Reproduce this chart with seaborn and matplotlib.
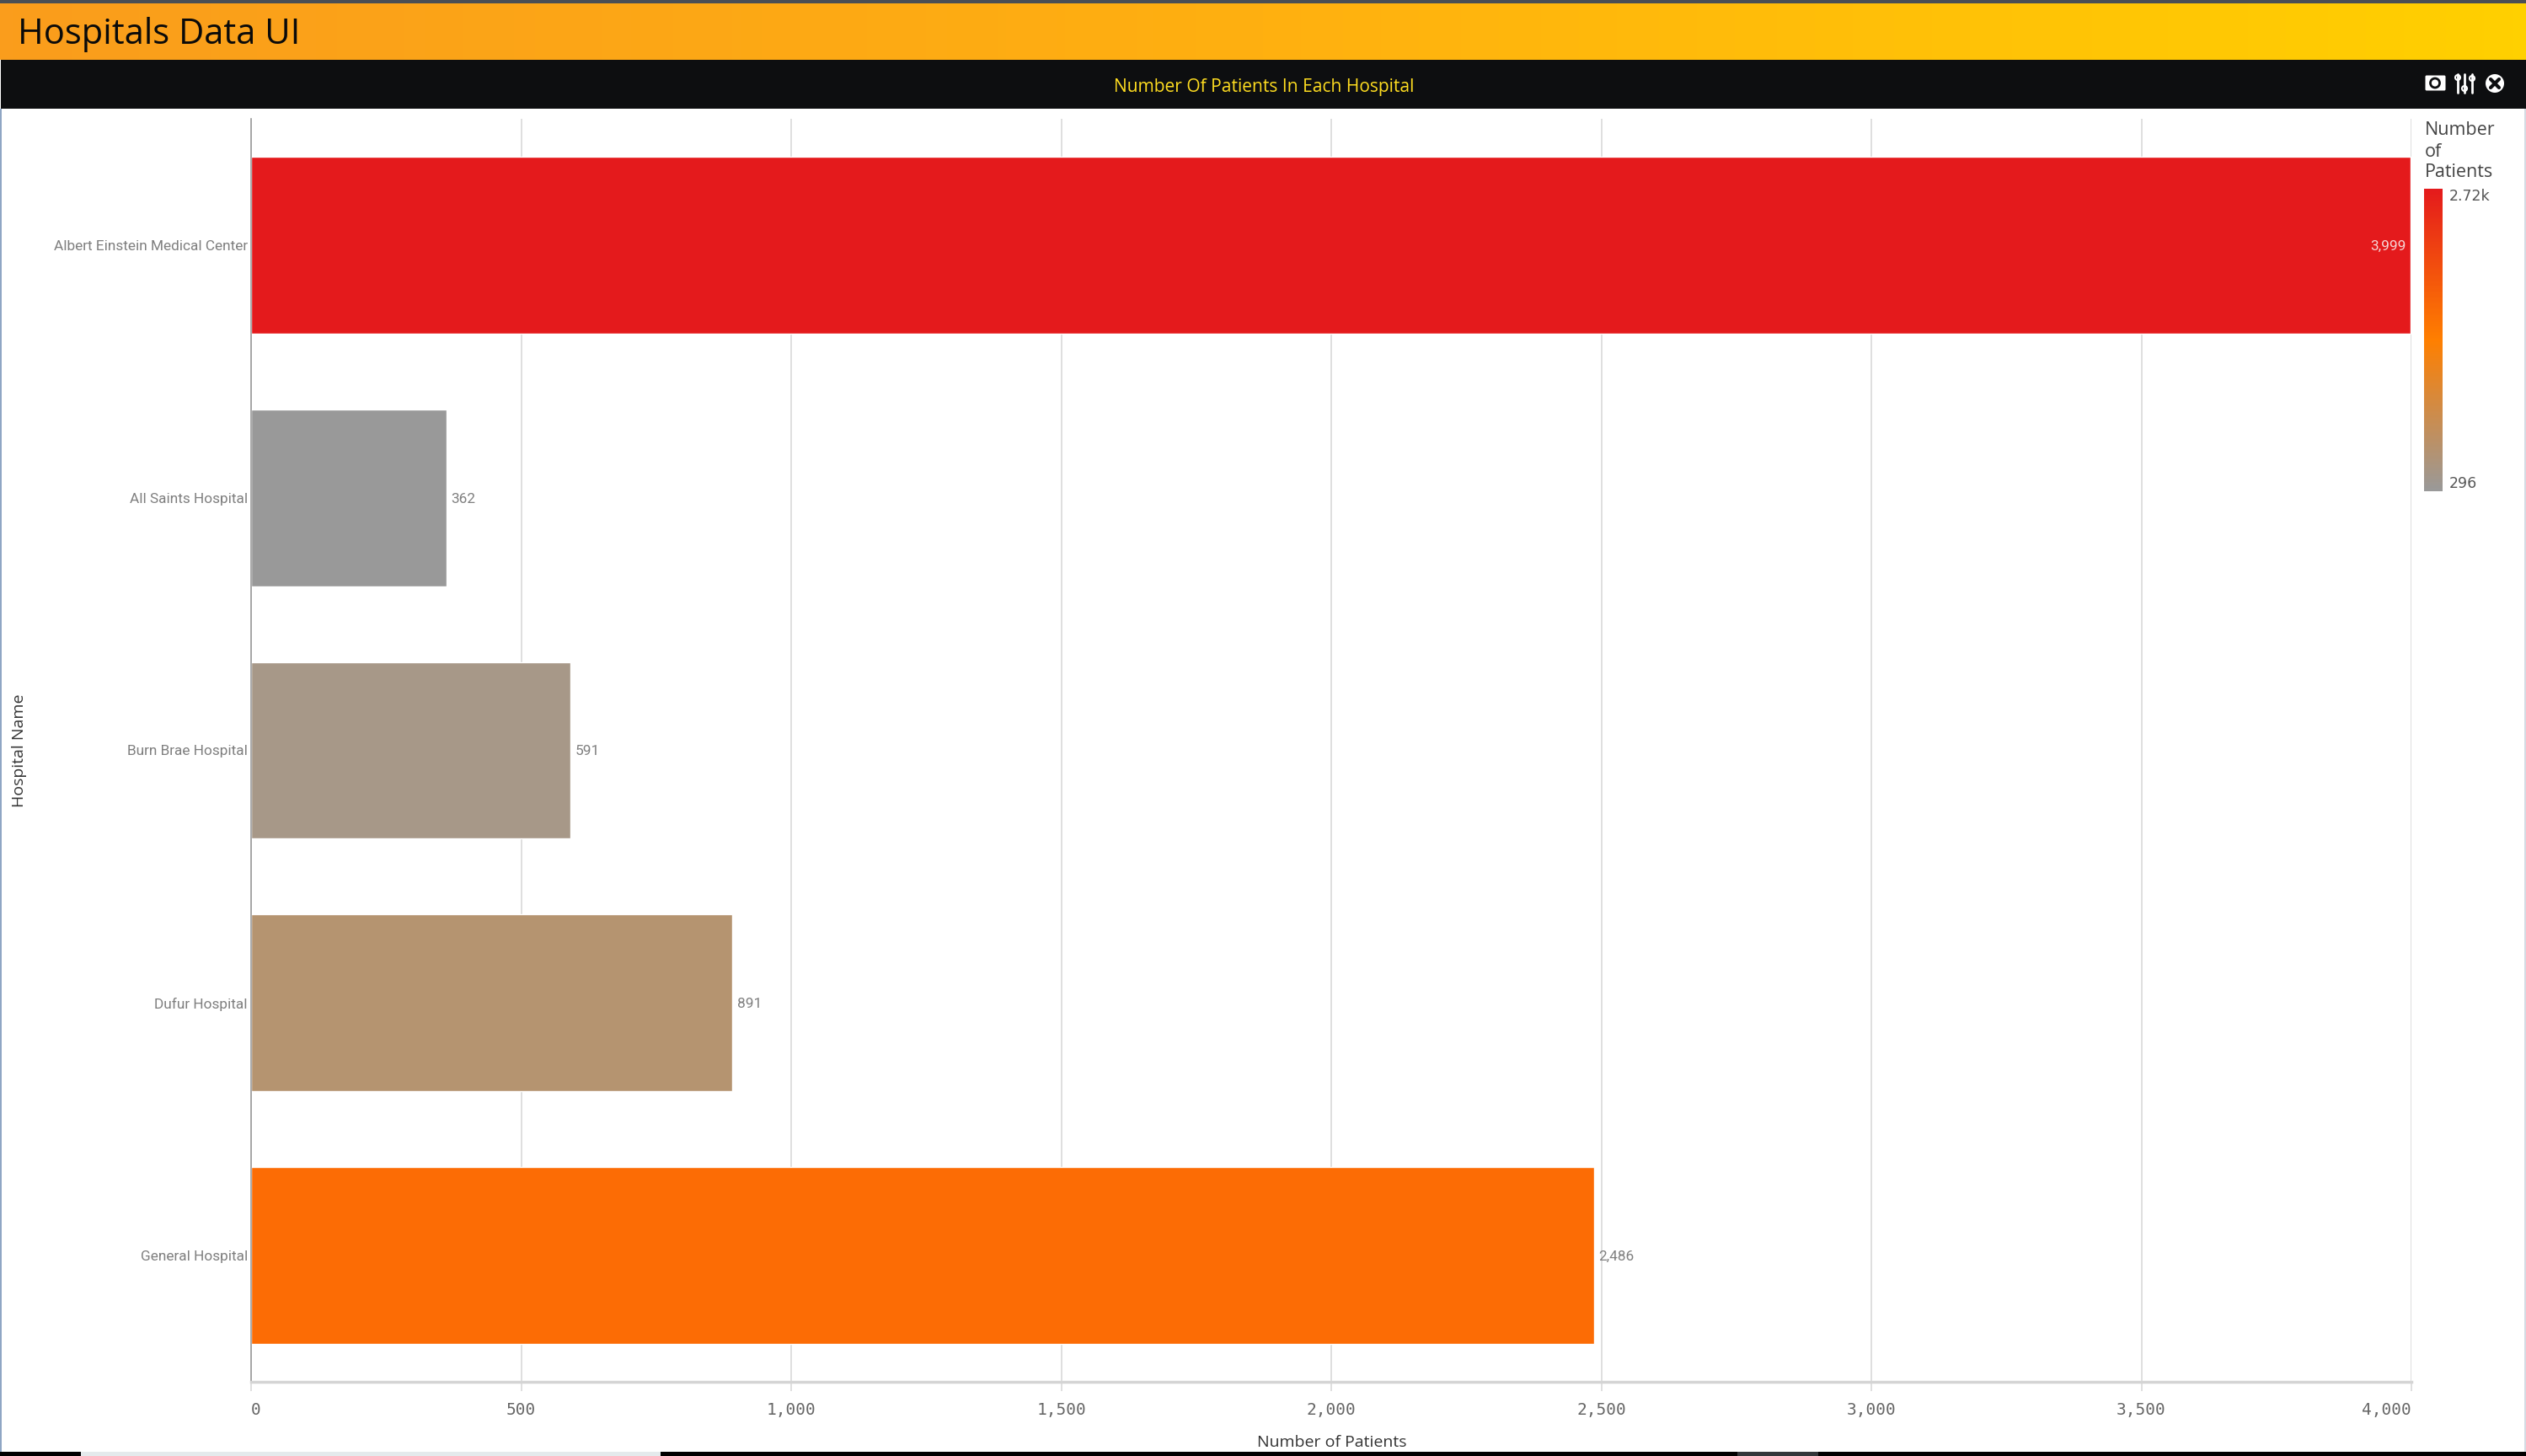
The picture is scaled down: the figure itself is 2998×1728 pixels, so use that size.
import matplotlib
matplotlib.use('Agg')
import matplotlib.pyplot as plt
from matplotlib.colors import LinearSegmentedColormap, Normalize
from matplotlib.cm import ScalarMappable
from matplotlib.patches import Circle, FancyBboxPatch, Rectangle
from matplotlib.ticker import FuncFormatter
import numpy as np
import pandas as pd
import seaborn as sns

W, H = 2998, 1728

# data
hospitals = ["Albert Einstein Medical Center", "All Saints Hospital", "Burn Brae Hospital",
             "Dufur Hospital", "General Hospital"]
patients = [3999, 362, 591, 891, 2486]
bar_colors = ["#E41A1C", "#999999", "#A79888", "#B59470", "#FC6C05"]
x_ticks = [0, 500, 1000, 1500, 2000, 2500, 3000, 3500, 4000]
scale_min, scale_max = 296, 2720
scale_labels = ["2.72k", "296"]

sns.set_theme(style="whitegrid")
plt.rcParams['font.family'] = ['Roboto', 'DejaVu Sans']

fig = plt.figure(figsize=(W / 100, H / 100), dpi=100, facecolor="white")


def px_axes(x0, y0, x1, y1, **kw):
    # axes from pixel box, y counted from the top
    return fig.add_axes([x0 / W, 1 - y1 / H, (x1 - x0) / W, (y1 - y0) / H], **kw)


# page chrome in pixel coordinates
page = px_axes(0, 0, W, H, zorder=0)
page.axis("off")
page.grid(False)

header_cmap = LinearSegmentedColormap.from_list("header", ["#FA9D1C", "#FFB010", "#FFD000"])
page.imshow(np.linspace(0, 1, 600).reshape(1, -1), cmap=header_cmap, aspect="auto",
            extent=(0, W, 71, 4))
page.set_xlim(0, W)
page.set_ylim(H, 0)
page.add_patch(Rectangle((0, 0), W, 4, color="#4A4F55", lw=0))
page.add_patch(Rectangle((1, 71), W, 58, color="#0D0E10", lw=0))
page.add_patch(Rectangle((0, 129), 2, 1595, color="#8FA6C4", lw=0))
page.add_patch(Rectangle((W - 2, 129), 2, 1595, color="#D5DBE3", lw=0))
page.add_patch(Rectangle((0, 1723), W, 5, color="#000000", lw=0))
page.add_patch(Rectangle((96, 1723), 688, 5, color="#E4EAEC", lw=0))
page.add_patch(Rectangle((2062, 1723), 96, 5, color="#33373A", lw=0))

page.text(21, 41, "Hospitals Data UI", fontsize=30, family="Open Sans", color="#0A0A0A",
          va="center", ha="left")
page.text(1500, 103, "Number Of Patients In Each Hospital", fontsize=15.1, family="Open Sans",
          color="#FFDD20", va="center", ha="center")

# toolbar icons
page.add_patch(FancyBboxPatch((2880, 91), 21, 15, boxstyle="round,pad=1.5", color="white", lw=0))
page.add_patch(Circle((2890, 98.5), 5.5, fc="white", ec="#0D0E10", lw=2))
for sx, ky in zip([2917, 2925, 2934], [92, 105, 93]):
    page.plot([sx, sx], [88, 110], color="white", lw=2, solid_capstyle="round")
    page.add_patch(Circle((sx, ky), 3, fc="#0D0E10", ec="white", lw=1.5))
page.add_patch(Circle((2961, 99), 11, color="white", lw=0))
page.plot([2956, 2966], [94, 104], color="#0D0E10", lw=3)
page.plot([2956, 2966], [104, 94], color="#0D0E10", lw=3)

# main bars
df = pd.DataFrame({"Hospital Name": hospitals, "Number of Patients": patients})
ax = px_axes(298, 141, 2862, 1640, zorder=2)
ax.patch.set_alpha(0)
sns.barplot(data=df, x="Number of Patients", y="Hospital Name", hue="Hospital Name",
            hue_order=hospitals, palette=bar_colors, dodge=False, width=0.7, legend=False,
            saturation=1, ax=ax)
ax.set_xlim(0, 4000)
ax.set_ylim(4.5, -0.5)
ax.set_xticks(x_ticks)
ax.xaxis.set_major_formatter(FuncFormatter(lambda v, _: f"{int(v):,}"))
ax.grid(True, axis="x", color="#D9D9D9", lw=1.2)
ax.grid(False, axis="y")
ax.set_axisbelow(True)
ax.set_xlabel("")
ax.set_ylabel("")

for side in ["top", "right"]:
    ax.spines[side].set_visible(False)
ax.spines["left"].set_color("#9A9A9A")
ax.spines["left"].set_linewidth(1.2)
ax.spines["bottom"].set_color("#D4D4D4")
ax.spines["bottom"].set_linewidth(2.5)

ax.tick_params(axis="x", length=8, width=1.2, color="#D9D9D9", pad=9, bottom=True)
ax.tick_params(axis="y", length=0, pad=3)
for lab in ax.get_yticklabels():
    lab.set_fontsize(12.4)
    lab.set_color("#7F7F7F")
    lab.set_fontfamily("Roboto")
for i, lab in enumerate(ax.get_xticklabels()):
    lab.set_fontsize(14)
    lab.set_color("#666666")
    lab.set_fontfamily("DejaVu Sans Mono")
    if i == 0:
        lab.set_ha("left")
    elif i == len(x_ticks) - 1:
        lab.set_ha("right")

for container, value in zip(ax.containers, patients):
    inside = value > 3000
    labels = ax.bar_label(container, fmt="{:,.0f}", padding=-4 if inside else 4, fontsize=12.4,
                          color="#F6D5D5" if inside else "#7F7F7F", family="Roboto")
    labels[0].xyann = (labels[0].xyann[0], labels[0].xyann[1] - 1)
    if inside:
        labels[0].set_ha("right")

page.text(1581, 1712, "Number of Patients", fontsize=14, family="Open Sans", color="#333333",
          va="center", ha="center")
page.text(23, 891, "Hospital Name", fontsize=14, family="Open Sans", color="#333333",
          va="center", ha="center", rotation=90)

# colour scale legend
for line_y, word in zip([155, 180, 205], ["Number", "of", "Patients"]):
    page.text(2878, line_y, word, fontsize=15.5, family="Open Sans", color="#444444",
              va="center", ha="left")

scale_cmap = LinearSegmentedColormap.from_list("scale", ["#999999", "#FF7F00", "#E41A1C"])
cax = px_axes(2877, 224, 2899, 583, zorder=3)
cbar = fig.colorbar(ScalarMappable(norm=Normalize(scale_min, scale_max), cmap=scale_cmap), cax=cax)
cbar.set_ticks([])
cbar.outline.set_visible(False)
page.text(2907, 233, scale_labels[0], fontsize=12.5, family="DejaVu Sans", color="#555555", va="center")
page.text(2907, 574, scale_labels[1], fontsize=12.5, family="DejaVu Sans", color="#555555", va="center")

fig.savefig("out.png", dpi=100)
